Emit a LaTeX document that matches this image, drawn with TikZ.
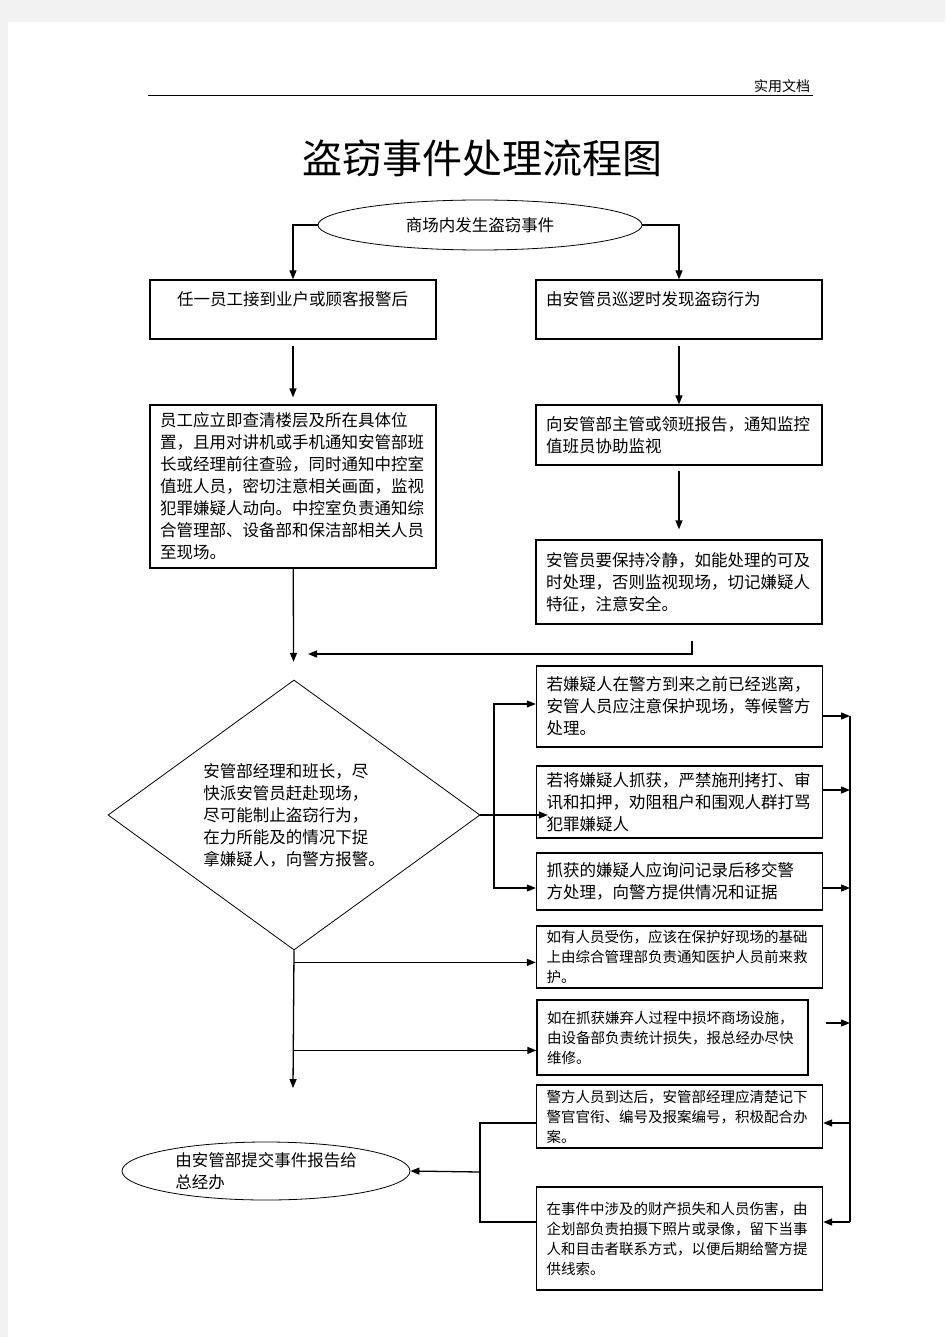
\documentclass[tikz,border=0pt]{standalone}
\usepackage{fontspec}
\setmainfont{Noto Sans CJK SC}
\usetikzlibrary{arrows.meta,shapes.geometric}
\newcommand{\fsz}[2]{\fontsize{#1}{#2}\selectfont}

\begin{document}
\begin{tikzpicture}[x=1pt,y=-1pt,
    box/.style={draw,line width=1.3pt,align=left,inner xsep=10pt,inner ysep=0pt,
                text width=266pt,minimum width=286pt,font=\fsz{16.5}{22}},
    smallbox/.style={box,font=\fsz{14.5}{20}},
    oval/.style={draw,ellipse,line width=0.8pt,inner sep=0pt,font=\fsz{16.5}{22}},
    arr/.style={line width=1.3pt,-{Triangle[length=9pt,width=7pt]}},
    link/.style={line width=1.3pt}]
  \useasboundingbox (0,0) rectangle (945,1337);
  \fill[black!5] (0,0) rectangle (945,1337);
  \fill[white] (8,22) rectangle (945,1337);

  % header and title
  \node[font=\fsz{14}{16}] (hdr) at (782,86) {实用文档};
  \draw[line width=1pt] (148,96) -- (813,96);
  \node[font=\fsz{40}{44}] (title) at (482,158) {盗窃事件处理流程图};

  % start
  \node[oval,minimum width=324pt,minimum height=50pt] (start) at (480,225) {商场内发生盗窃事件};

  % left branch
  \node[box,minimum height=59pt] (A1) at (293,309.5) {\hspace*{17pt}任一员工接到业户或顾客报警后\\~};
  \node[box,minimum height=163pt] (A2) at (293,486.5) {员工应立即查清楼层及所在具体位\\置，且用对讲机或手机通知安管部班\\长或经理前往查验，同时通知中控室\\值班人员，密切注意相关画面，监视\\犯罪嫌疑人动向。中控室负责通知综\\合管理部、设备部和保洁部相关人员\\至现场。};

  % right branch
  \node[box,minimum height=59pt] (B1) at (679,309.5) {由安管员巡逻时发现盗窃行为\\~};
  \node[box,minimum height=60pt] (B2) at (679,435) {向安管部主管或领班报告，通知监控\\值班员协助监视};
  \node[box,minimum height=84pt] (B3) at (679,582) {安管员要保持冷静，如能处理的可及\\时处理，否则监视现场，切记嫌疑人\\特征，注意安全。};

  % decision
  \node[draw,diamond,line width=0.8pt,inner sep=0pt,shape aspect=1.38,
        minimum width=372pt,minimum height=270pt,align=left,font=\fsz{16.5}{22}]
        (D) at (294,815) {安管部经理和班长，尽\\快派安管员赶赴现场，\\尽可能制止盗窃行为，\\在力所能及的情况下捉\\拿嫌疑人，向警方报警。};

  % actions
  \node[box,minimum height=81pt] (C1) at (679.5,706.5) {若嫌疑人在警方到来之前已经逃离，\\安管人员应注意保护现场，等候警方\\处理。};
  \node[box,minimum height=72pt] (C2) at (679.5,802) {若将嫌疑人抓获，严禁施刑拷打、审\\讯和扣押，劝阻租户和围观人群打骂\\犯罪嫌疑人};
  \node[box,minimum height=57pt] (C3) at (679.5,881.5) {抓获的嫌疑人应询问记录后移交警\\方处理，向警方提供情况和证据};
  \node[smallbox,minimum height=62pt] (C4) at (679.5,957) {如有人员受伤，应该在保护好现场的基础\\上由综合管理部负责通知医护人员前来救\\护。};
  \node[smallbox,minimum height=75pt,text width=251pt,minimum width=271pt] (C5) at (672.5,1037.5) {如在抓获嫌弃人过程中损坏商场设施，\\由设备部负责统计损失，报总经办尽快\\维修。};
  \node[smallbox,minimum height=63pt] (C6) at (679.5,1116.5) {警方人员到达后，安管部经理应清楚记下\\警官官衔、编号及报案编号，积极配合办\\案。};
  \node[smallbox,minimum height=103pt] (C7) at (679.5,1238.5) {在事件中涉及的财产损失和人员伤害，由\\企划部负责拍摄下照片或录像，留下当事\\人和目击者联系方式，以便后期给警方提\\供线索。};

  % end
  \node[oval,minimum width=288pt,minimum height=58pt,align=left] (E2) at (266,1171) {由安管部提交事件报告给\\总经办};

  % junction points
  \coordinate (merge) at (308,654);
  \coordinate (split) at (494,815);
  \coordinate (rtop) at (850,716);
  \coordinate (rbot) at (850,1222);
  \coordinate (dend) at (293,1088);
  \coordinate (lj) at (480,1172);

  % connectors
  \draw[arr] (start.west) -| (A1.north);
  \draw[arr] (start.east) -| (B1.north);
  \draw[arr,shorten <=6pt,shorten >=7pt] (A1) -- (A2);
  \draw[arr,shorten <=6pt] (B1) -- (B2);
  \draw[arr,shorten <=5pt,shorten >=10pt] (B2) -- (B3);
  \draw[arr,shorten >=18pt] (A2) -- (D);
  \draw[arr] ([xshift=13pt,yshift=-16pt]B3.south) |- (merge);

  \draw[link] (D.east) -- (split);
  \draw[arr] (split) |- ([yshift=2.5pt]C1.west);
  \draw[arr] (split) -- ([xshift=12pt]split -| C2.west);
  \draw[arr] (split) |- ([yshift=-6.5pt]C3.west);

  \draw[link] (rtop) -- (rbot);
  \draw[arr] ([yshift=-9.5pt]C1.east) -- (rtop);
  \draw[arr] ([yshift=12pt]C2.east) -- ([yshift=12pt]C2.east -| rtop);
  \draw[arr] ([yshift=-6.5pt]C3.east) -- ([yshift=-6.5pt]C3.east -| rtop);
  \draw[arr] ([xshift=17pt,yshift=14.5pt]C5.east) -- ([yshift=14.5pt]C5.east -| rtop);
  \draw[arr] ([yshift=-6.5pt]C6.east -| rtop) -- ([yshift=-6.5pt]C6.east);
  \draw[arr] (rbot) -- ([yshift=16.5pt]C7.east);

  \draw[arr] (D.south) -- (dend);
  \draw[arr] ([yshift=-12pt]D.south) -- ([yshift=-12pt]D.south -| C4.west);
  \draw[arr] ([yshift=-100pt]D.south) -- ([yshift=-100pt]D.south -| C5.west);

  \draw[link] ([yshift=-6.5pt]C6.west) -| (lj);
  \draw[link] ([yshift=16.5pt]C7.west) -| (lj);
  \draw[arr] (lj) -- (E2.east);
\end{tikzpicture}
\end{document}
